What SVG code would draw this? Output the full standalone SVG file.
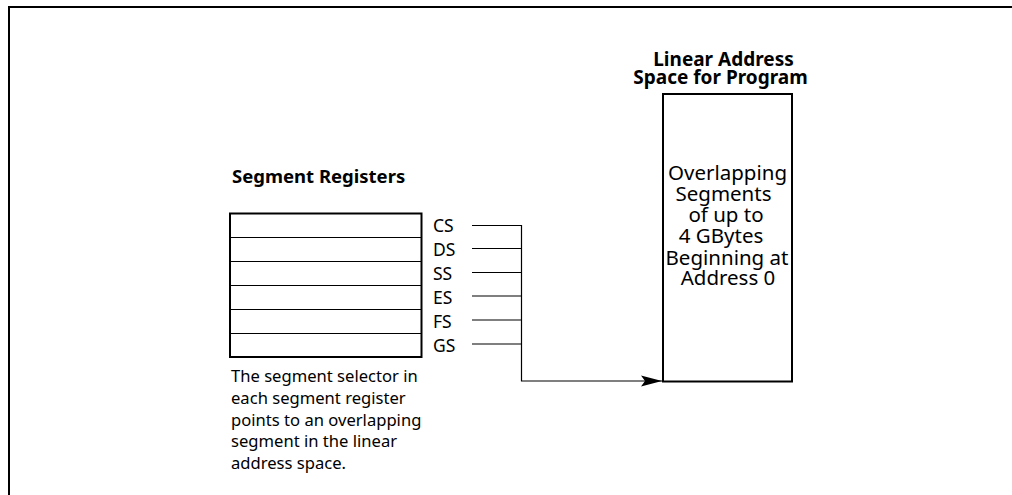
<svg xmlns="http://www.w3.org/2000/svg" width="1012" height="495" viewBox="0 0 1012 495">
<style>
text{font-family:"Noto Sans","Open Sans",sans-serif;fill:#000}
.b{font-weight:bold;font-size:18.5px}
.t{font-weight:bold;font-size:19px;text-anchor:middle}
.lbl{font-size:17.5px}
.note{font-size:16.6px}
.in{font-size:20.5px;text-anchor:middle}
.thick{fill:none;stroke:#000;stroke-width:2}
.thin{fill:none;stroke:#000;stroke-width:1.2}
</style>
<defs>
<marker id="arr" markerWidth="22" markerHeight="12" refX="21" refY="6" orient="auto" markerUnits="userSpaceOnUse">
<path d="M0,0.5 L21,6 L0,11.5 L4,6 Z" fill="#000"/>
</marker>
</defs>
<rect width="1012" height="495" fill="#fff"/>
<g id="frame">
<path class="thick" d="M9,495 V7 H1012"/>
</g>
<g id="segment-registers">
<text class="b" x="232" y="183">Segment Registers</text>
<rect class="thick" x="230" y="213.5" width="191.5" height="143.5"/>
<path class="thin" d="M230,237.5 H421.5 M230,261.5 H421.5 M230,285.5 H421.5 M230,309.5 H421.5 M230,333.5 H421.5"/>
<text class="lbl" x="433" y="232">CS</text>
<text class="lbl" x="433" y="256">DS</text>
<text class="lbl" x="433" y="280">SS</text>
<text class="lbl" x="433" y="303.5">ES</text>
<text class="lbl" x="433" y="327.5">FS</text>
<text class="lbl" x="433" y="351.5">GS</text>
</g>
<g id="note">
<text class="note" x="231" y="382">The segment selector in</text>
<text class="note" x="231" y="404">each segment register</text>
<text class="note" x="231" y="425.5">points to an overlapping</text>
<text class="note" x="231" y="447">segment in the linear</text>
<text class="note" x="231" y="468.5">address space.</text>
</g>
<g id="linear-address-space">
<text class="t" x="723.5" y="66">Linear Address</text>
<text class="t" x="720.5" y="83.5">Space for Program</text>
<rect class="thick" x="663" y="94" width="129" height="287.5"/>
<text class="in" x="727.5" y="180">Overlapping</text>
<text class="in" x="723.5" y="201">Segments</text>
<text class="in" x="726" y="222">of up to</text>
<text class="in" x="721" y="243">4 GBytes</text>
<text class="in" x="727" y="264.5">Beginning at</text>
<text class="in" x="728" y="285">Address 0</text>
</g>
<g id="connectors">
<path class="thin" d="M472,225.5 H521.5 M472,248.5 H521.5 M472,272.5 H521.5 M472,296 H521.5 M472,320 H521.5 M472,344 H521.5"/>
<path class="thin" d="M521.5,225 V381 H662" marker-end="url(#arr)"/>
</g>
</svg>
